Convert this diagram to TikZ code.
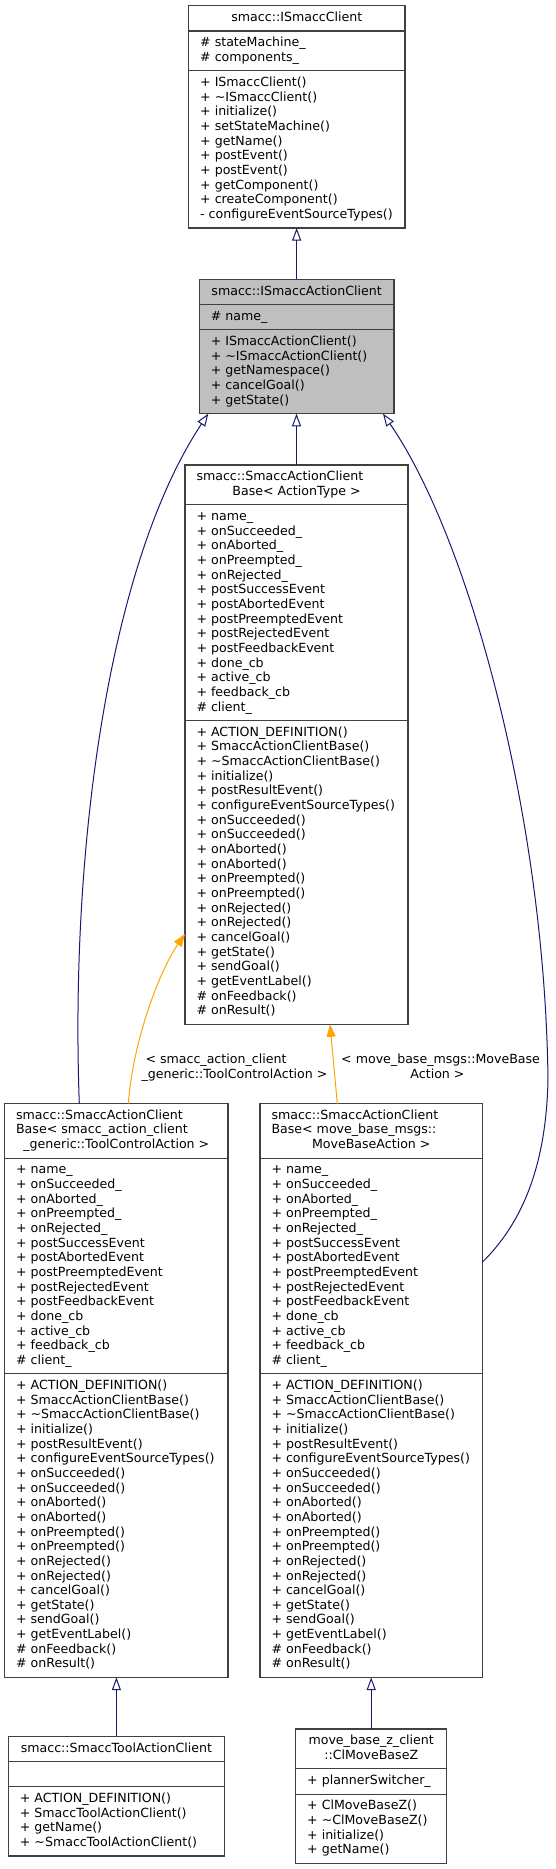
\documentclass[tikz,border=0pt]{standalone}
\usepackage{fontspec}
\setmainfont{DejaVu Sans}
\usetikzlibrary{arrows.meta,calc}
\definecolor{edgeblue}{HTML}{191970}
\definecolor{edgeorange}{HTML}{FFA500}
\definecolor{boxline}{HTML}{404040}
\definecolor{grayfill}{HTML}{BFBFBF}
\tikzset{
  classbox/.style={rectangle, draw=boxline, line width=1.1pt, inner sep=0pt, outer sep=0pt},
  divider/.style={draw=boxline, line width=1.1pt},
  txt/.style={inner sep=0pt, outer sep=0pt, font=\fontsize{12.6}{14.65}\selectfont},
  inh/.style={draw=edgeblue, line width=1pt, -{Triangle[open, length=12.6pt, width=9pt]}},
  tmpl/.style={draw=edgeorange, line width=1pt, -{Triangle[length=12.6pt, width=9pt, fill=edgeorange]}}
}
\newcommand\cbox[8]{%
  \pgfmathsetmacro\cbA{#4+#5*14.65+10.6}%
  \pgfmathsetmacro\cbB{\cbA+#6*14.65+10.6}%
  \pgfmathsetmacro\cbC{\cbB+#7*14.65+10.6}%
  \pgfmathsetmacro\cbW{#3-#2}%
  \pgfmathsetmacro\cbH{\cbC-#4}%
  \node[classbox, fill=#8, minimum width=\cbW pt, minimum height=\cbH pt, anchor=north west] (#1) at (#2,#4) {};
  \draw[divider] (#2,\cbA) -- (#3,\cbA);
  \draw[divider] (#2,\cbB) -- (#3,\cbB);
}
\newcommand\tlines[5]{%
  \foreach \s [count=\i from 0] in #5 {\node[txt, anchor=#4] (#1-\i) at (#2, #3+\i*14.65+4.2) {\s};}
}
\newcommand\attrsSACB{+ name\_, + onSucceeded\_, + onAborted\_, + onPreempted\_, + onRejected\_, + postSuccessEvent, + postAbortedEvent, + postPreemptedEvent, + postRejectedEvent, + postFeedbackEvent, + done\_cb, + active\_cb, + feedback\_cb, \# client\_}
\newcommand\methSACB{+ ACTION\_DEFINITION(), + SmaccActionClientBase(), + \textasciitilde SmaccActionClientBase(), + initialize(), + postResultEvent(), + configureEventSourceTypes(), + onSucceeded(), + onSucceeded(), + onAborted(), + onAborted(), + onPreempted(), + onPreempted(), + onRejected(), + onRejected(), + cancelGoal(), + getState(), + sendGoal(), + getEventLabel(), \# onFeedback(), \# onResult()}
\begin{document}
\begin{tikzpicture}[x=1pt,y=-1pt]
\fill[white] (0,0) rectangle (556,1869);
\useasboundingbox (0,0) rectangle (556,1869);

% ISmaccClient
\cbox{b1}{188.7}{405}{5.7}{1}{2}{10}{white}
\tlines{b1t}{296.85}{17.2}{base}{{smacc::ISmaccClient}}
\tlines{b1a}{200.2}{42.45}{base west}{{\# stateMachine\_, \# components\_}}
\tlines{b1m}{200.2}{82.35}{base west}{{+ ISmaccClient(), + \textasciitilde ISmaccClient(), + initialize(), + setStateMachine(), + getName(), + postEvent(), + postEvent(), + getComponent(), + createComponent(), - configureEventSourceTypes()}}

% ISmaccActionClient
\cbox{b2}{199.3}{394}{279.3}{1}{1}{5}{grayfill}
\tlines{b2t}{296.65}{290.8}{base}{{smacc::ISmaccActionClient}}
\tlines{b2a}{210.8}{316.05}{base west}{{\# name\_}}
\tlines{b2m}{210.8}{341.3}{base west}{{+ ISmaccActionClient(), + \textasciitilde ISmaccActionClient(), + getNamespace(), + cancelGoal(), + getState()}}

% SmaccActionClientBase<ActionType>
\cbox{b3}{185}{408}{465}{2}{14}{20}{white}
\tlines{b3t}{196.5}{476.5}{base west}{{smacc::SmaccActionClient}}
\tlines{b3u}{296.5}{491.15}{base}{{Base< ActionType >}}
\tlines{b3a}{196.5}{516.4}{base west}{\attrsSACB}
\tlines{b3m}{196.5}{732.1}{base west}{\methSACB}

% left instantiation
\cbox{b4}{4.6}{228}{1103.6}{3}{14}{20}{white}
\tlines{b4t}{16.1}{1115.1}{base west}{{smacc::SmaccActionClient, Base< smacc\_action\_client}}
\tlines{b4u}{116.3}{1144.4}{base}{{\_generic::ToolControlAction >}}
\tlines{b4a}{16.1}{1169.65}{base west}{\attrsSACB}
\tlines{b4m}{16.1}{1385.35}{base west}{\methSACB}

% right instantiation
\cbox{b5}{260}{482.5}{1103.6}{3}{14}{20}{white}
\tlines{b5t}{271.5}{1115.1}{base west}{{smacc::SmaccActionClient, Base< move\_base\_msgs::}}
\tlines{b5u}{371.25}{1144.4}{base}{{MoveBaseAction >}}
\tlines{b5a}{271.5}{1169.65}{base west}{\attrsSACB}
\tlines{b5m}{271.5}{1385.35}{base west}{\methSACB}

% SmaccToolActionClient
\cbox{b6}{8.4}{224.4}{1736.3}{1}{1}{4}{white}
\tlines{b6t}{116.4}{1747.8}{base}{{smacc::SmaccToolActionClient}}
\tlines{b6m}{19.9}{1798.3}{base west}{{+ ACTION\_DEFINITION(), + SmaccToolActionClient(), + getName(), + \textasciitilde SmaccToolActionClient()}}

% ClMoveBaseZ
\cbox{b7}{295.7}{446.7}{1729}{2}{1}{4}{white}
\tlines{b7t}{371.2}{1740.5}{base}{{move\_base\_z\_client, ::ClMoveBaseZ}}
\tlines{b7a}{307.2}{1780.4}{base west}{{+ plannerSwitcher\_}}
\tlines{b7m}{307.2}{1805.65}{base west}{{+ ClMoveBaseZ(), + \textasciitilde ClMoveBaseZ(), + initialize(), + getName()}}

% inheritance connectors
\draw[inh] (b2.north) -- (b2.north |- b1.south);
\draw[inh] (b3.north) -- (b3.north |- b2.south);
\coordinate (c1) at ([xshift=74.7pt]b4.north west);
\coordinate (c2) at ([xshift=9pt]b2.south west);
\draw[inh] (c1) .. controls (70,850) and (108,565) .. (c2);
\coordinate (c3) at ([yshift=-158.4pt]b5.north east);
\coordinate (c4) at (548,1080);
\coordinate (c5) at ([xshift=-11pt]b2.south east);
\draw[inh] (c3) .. controls (520,1225) and (546,1170) .. (c4) .. controls (545,820) and (470,540) .. (c5);
\draw[inh] (b6.north) -- (b6.north |- b4.south);
\draw[inh] (b7.north) -- (b7.north |- b5.south);

% template instantiation connectors
\coordinate (o1) at ([xshift=123.7pt]b4.north west);
\coordinate (o2) at ([yshift=-469pt]b3.north west);
\draw[tmpl] (o1) .. controls (133,1040) and (160,970) .. (o2);
\coordinate (o3) at ([xshift=77.3pt]b5.north west);
\coordinate (o4) at ([xshift=145pt]b3.south west);
\draw[tmpl] (o3) -- (o4);

% labels
\node[txt, anchor=base west] (lab1a) at (145.5,1063.8) {< smacc\_action\_client};
\node[txt, anchor=base west] (lab1b) at (141.5,1078.7) {\_generic::ToolControlAction >};
\node[txt, anchor=base] (lab2a) at (440.6,1063.8) {< move\_base\_msgs::MoveBase};
\node[txt, anchor=base] (lab2b) at (437.5,1078.7) {Action >};
\end{tikzpicture}
\end{document}
